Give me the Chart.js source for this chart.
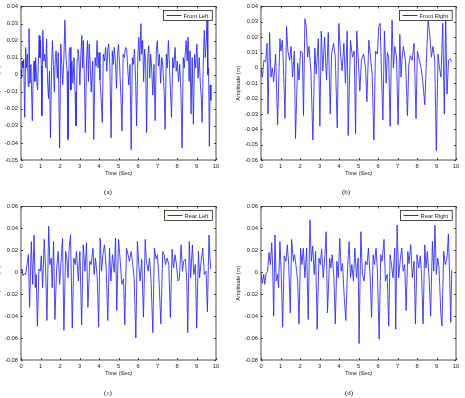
<!DOCTYPE html>
<html lang="en">
<head>
  <meta charset="UTF-8"/>
  <title>Suspension amplitude</title>
  <script src="https://cdn.jsdelivr.net/npm/chart.js"></script>
  <style>
    body { margin: 0; background: #fff; width: 465px; height: 398px; overflow: hidden; position: relative; }
    .panel { position: absolute; }
    .cap { position: absolute; width: 40px; text-align: center; font: 7px "Liberation Serif", serif; color: #111; line-height: 8px; will-change: transform; }
  </style>
</head>
<body>
  <canvas id="fl" class="panel" width="229" height="177" style="left:-5px;top:0px"></canvas>
  <canvas id="fr" class="panel" width="229" height="177" style="left:235px;top:0px"></canvas>
  <canvas id="rl" class="panel" width="229" height="177" style="left:-5px;top:200px"></canvas>
  <canvas id="rr" class="panel" width="229" height="177" style="left:235px;top:200px"></canvas>
  <div class="cap" style="left:88px;top:188px">(a)</div>
  <div class="cap" style="left:326px;top:188px">(b)</div>
  <div class="cap" style="left:88px;top:389px">(c)</div>
  <div class="cap" style="left:329px;top:389px">(d)</div>

  <script>
    // front left wheel
    const timeFL = [0,0.03,0.06,0.10,0.14,0.19,0.24,0.28,0.33,0.37, 0.41,0.46,0.51,0.58,0.63,0.67,0.71,0.75,0.80,0.85,
      0.90,0.93,0.97,1.00,1.04,1.07,1.12,1.17,1.22,1.28, 1.31,1.36,1.41,1.46,1.51,1.57,1.61,1.66,1.71,1.76,
      1.80,1.86,1.91,1.98,2.04,2.09,2.14,2.20,2.25,2.30, 2.36,2.41,2.47,2.52,2.56,2.61,2.66,2.72,2.77,2.82,
      2.88,2.92,2.97,3.02,3.07,3.12,3.16,3.20,3.25,3.30, 3.36,3.41,3.46,3.50,3.55,3.60,3.68,3.73,3.80,3.85,
      3.90,3.95,4.00,4.05,4.10,4.17,4.22,4.28,4.34,4.40, 4.45,4.50,4.56,4.62,4.68,4.73,4.78,4.84,4.90,4.95,
      5.00,5.06,5.12,5.18,5.24,5.30,5.36,5.42,5.48,5.53, 5.59,5.65,5.71,5.76,5.82,5.88,5.93,5.99,6.04,6.09,
      6.15,6.19,6.24,6.29,6.34,6.39,6.44,6.50,6.55,6.60, 6.65,6.70,6.76,6.82,6.88,6.94,6.99,7.05,7.10,7.16,
      7.22,7.28,7.34,7.39,7.45,7.50,7.56,7.61,7.66,7.72, 7.78,7.84,7.90,7.96,8.02,8.08,8.14,8.20,8.26,8.32,
      8.37,8.42,8.47,8.52,8.57,8.62,8.67,8.72,8.78,8.84, 8.90,8.96,9.02,9.08,9.14,9.20,9.24,9.29,9.35,9.40,
      9.45,9.50,9.54,9.58,9.62,9.66,9.70,9.74];
    const ampFL = [0.003,-0.002,0.008,0.004,0.009,-0.025,0.016,0.004,0.012,-0.007, 0.027,-0.005,0.006,-0.027,0.002,0.008,-0.004,0.010,-0.002,-0.009,
      0.012,0.023,0.010,0.020,0.005,-0.024,0.026,0.008,0.012,0.004, 0.021,-0.003,-0.014,0.002,-0.037,0.005,0.020,0.006,-0.010,0.010,
      0.014,-0.002,0.013,-0.043,0.018,0.006,-0.006,0.010,0.032,0.012, 0.002,-0.038,0.013,0.016,-0.009,0.008,-0.005,0.010,-0.010,-0.030,
      0.009,0.015,0.010,-0.006,0.012,0.023,0.004,0.020,-0.002,-0.034, 0.008,0.020,-0.004,0.018,0.006,-0.010,0.008,-0.038,0.010,0.005,
      0.020,0.004,0.013,-0.003,-0.012,-0.028,0.012,0.008,0.016,0.002, 0.015,0.018,0.004,-0.037,0.014,0.006,0.016,0.008,-0.008,0.012,
      0.018,0.005,-0.012,-0.033,0.012,0.010,0.016,0.015,0.002,-0.006, 0.006,-0.044,0.010,0.006,0.015,-0.004,-0.030,0.010,0.022,0.008,
      0.030,0.012,0.020,-0.004,0.015,0.008,-0.034,0.010,0.017,-0.002, 0.012,0.004,-0.012,0.006,-0.027,0.014,0.020,0.005,0.012,-0.005,
      0.010,0.004,-0.010,-0.032,0.012,0.004,0.020,0.006,-0.008,-0.025, 0.010,0.004,0.016,0.002,0.008,-0.004,0.006,-0.010,-0.043,0.010,
      0.004,0.012,0.020,0.008,0.022,-0.004,0.014,-0.023,0.010,-0.029, 0.012,0.004,0.018,-0.002,0.010,-0.006,-0.012,-0.028,0.008,0.026,
      0.010,0.020,0.032,0.000,0.004,-0.042,-0.006,-0.015];

    // front right wheel
    const timeFR = [0,0.07,0.15,0.24,0.31,0.36,0.44,0.51,0.58,0.65, 0.75,0.85,0.97,1.02,1.09,1.14,1.23,1.31,1.38,1.47,
      1.54,1.62,1.71,1.77,1.88,1.95,2.03,2.12,2.18,2.25, 2.32,2.39,2.46,2.56,2.66,2.76,2.83,2.94,3.02,3.09,
      3.17,3.26,3.36,3.45,3.55,3.62,3.72,3.81,3.91,3.99, 4.08,4.16,4.25,4.33,4.42,4.47,4.59,4.69,4.78,4.85,
      4.91,4.98,5.07,5.15,5.26,5.36,5.43,5.53,5.60,5.70, 5.79,5.87,5.97,6.04,6.11,6.18,6.25,6.33,6.42,6.48,
      6.55,6.62,6.72,6.79,6.86,6.95,7.03,7.12,7.18,7.24, 7.30,7.41,7.51,7.58,7.66,7.75,7.85,7.95,8.02,8.12,
      8.21,8.29,8.40,8.50,8.57,8.65,8.74,8.82,8.91,8.99, 9.08,9.15,9.23,9.32,9.40,9.47,9.54,9.62,9.71,9.76];
    const ampFR = [0.000,-0.006,0.005,0.004,0.016,-0.030,0.023,-0.006,0.000,-0.009, 0.009,-0.037,0.019,0.011,0.018,0.005,-0.033,0.027,0.011,0.005,
      0.014,-0.006,0.011,-0.046,0.003,-0.008,0.011,0.010,-0.031,0.032, 0.027,0.007,0.014,-0.002,-0.047,0.013,-0.004,0.019,-0.038,0.024,
      -0.002,0.020,-0.008,0.023,-0.030,0.009,0.016,0.007,-0.039,0.029, 0.009,-0.002,0.016,-0.010,0.024,-0.044,0.018,0.007,0.011,-0.043,
      0.024,0.007,-0.015,0.005,0.009,0.000,-0.022,0.018,0.009,-0.004, -0.047,0.011,0.009,0.027,0.029,-0.004,-0.034,0.024,-0.010,0.010,
      0.007,-0.038,0.031,0.000,0.014,0.007,-0.037,0.022,-0.006,0.007, 0.014,0.005,-0.031,0.002,0.008,0.005,0.016,-0.033,0.011,0.005,
      0.000,-0.008,-0.024,0.011,0.031,0.022,0.007,0.014,0.005,-0.054, 0.009,0.000,-0.006,0.029,-0.030,0.033,-0.017,0.005,0.006,0.004];

    // rear left wheel
    const timeRL = [0,0.05,0.10,0.17,0.24,0.31,0.38,0.44,0.53,0.60, 0.67,0.73,0.78,0.84,0.92,0.99,1.04,1.11,1.19,1.26,
      1.33,1.42,1.48,1.55,1.60,1.67,1.74,1.83,1.91,1.98, 2.05,2.13,2.20,2.29,2.35,2.41,2.47,2.54,2.63,2.71,
      2.78,2.85,2.94,3.02,3.11,3.19,3.28,3.36,3.43,3.53, 3.60,3.69,3.75,3.82,3.91,3.98,4.06,4.13,4.20,4.28,
      4.37,4.45,4.54,4.61,4.69,4.78,4.85,4.91,5.00,5.09, 5.17,5.26,5.32,5.41,5.49,5.56,5.65,5.73,5.80,5.89,
      5.97,6.04,6.11,6.19,6.28,6.37,6.43,6.52,6.59,6.67, 6.76,6.84,6.93,7.00,7.08,7.17,7.27,7.34,7.41,7.49,
      7.58,7.66,7.75,7.82,7.90,7.97,8.05,8.12,8.21,8.28, 8.34,8.43,8.50,8.55,8.63,8.70,8.79,8.86,8.94,9.01,
      9.10,9.16,9.23,9.32,9.40,9.49,9.56,9.64,9.69,9.73];
    const ampRL = [0.001,0.003,-0.003,-0.001,-0.002,0.007,0.016,-0.032,0.028,-0.011, 0.034,-0.014,-0.002,-0.049,0.003,0.001,0.015,-0.014,0.030,0.004,
      -0.044,0.042,0.007,0.013,-0.014,0.028,-0.043,0.004,0.019,-0.011, 0.009,0.031,-0.053,0.019,0.013,-0.005,0.022,0.034,-0.051,0.013,
      0.007,0.019,-0.008,0.019,-0.048,0.025,0.001,0.027,-0.032,0.010, 0.007,0.022,-0.002,0.013,-0.005,-0.050,0.031,0.001,0.016,0.025,
      0.004,-0.044,0.022,-0.008,0.016,0.000,0.031,-0.035,0.030,0.010, -0.011,-0.006,-0.048,0.022,0.016,0.010,0.019,0.007,-0.005,-0.060,
      0.028,0.007,-0.008,0.012,-0.041,0.030,0.010,0.001,0.013,-0.008, -0.055,0.022,0.012,0.016,-0.008,-0.047,0.019,0.016,0.007,0.013,
      0.007,-0.041,0.021,0.004,0.016,0.007,-0.008,-0.006,0.025,0.001, 0.010,0.012,-0.008,-0.055,0.028,-0.005,0.025,-0.002,0.007,-0.051,
      0.019,-0.005,0.009,0.022,-0.002,0.001,-0.036,0.034,0.013,0.003];

    // rear right wheel
    const timeRR = [0,0.07,0.14,0.19,0.26,0.34,0.41,0.48,0.55,0.60, 0.65,0.72,0.78,0.85,0.90,0.97,1.04,1.11,1.19,1.28,
      1.35,1.42,1.50,1.57,1.66,1.72,1.79,1.88,1.95,2.03, 2.10,2.17,2.25,2.34,2.42,2.51,2.58,2.65,2.73,2.80,
      2.88,2.97,3.04,3.11,3.19,3.28,3.34,3.41,3.52,3.58, 3.65,3.74,3.81,3.89,3.96,4.04,4.11,4.18,4.27,4.35,
      4.44,4.52,4.59,4.66,4.74,4.81,4.90,4.98,5.03,5.12, 5.20,5.29,5.36,5.44,5.51,5.60,5.67,5.75,5.82,5.90,
      5.97,6.06,6.14,6.21,6.31,6.38,6.47,6.55,6.62,6.69, 6.77,6.86,6.91,6.98,7.06,7.15,7.22,7.29,7.37,7.44,
      7.53,7.59,7.68,7.76,7.85,7.92,8.00,8.09,8.17,8.24, 8.31,8.40,8.46,8.53,8.62,8.70,8.79,8.86,8.92,8.99,
      9.06,9.13,9.22,9.28,9.37,9.45,9.54,9.61,9.68,9.73, 9.78];
    const ampRR = [-0.001,-0.010,-0.002,-0.011,-0.001,0.001,0.018,0.007,0.027,0.004, -0.040,0.034,-0.008,-0.002,-0.014,0.028,-0.002,-0.050,0.015,0.010,
      0.025,0.007,-0.037,0.030,0.010,0.016,0.007,-0.008,-0.047,0.022, 0.007,0.022,-0.005,0.022,-0.043,0.048,0.010,0.024,-0.002,0.019,
      -0.052,0.013,0.007,0.021,-0.005,0.016,0.037,-0.037,0.013,0.004, 0.016,-0.005,-0.047,0.010,-0.005,0.031,0.001,0.008,-0.023,-0.044,
      0.004,0.028,-0.005,0.007,-0.008,0.022,-0.005,0.013,-0.065,0.037, -0.002,-0.008,0.010,0.007,0.022,-0.005,-0.041,0.016,0.007,0.022,
      0.001,-0.061,0.016,0.010,0.030,-0.008,-0.002,-0.049,0.016,0.007, -0.005,0.022,-0.052,0.043,-0.005,0.013,0.022,0.001,0.007,-0.035,
      0.019,0.008,0.025,-0.005,0.010,-0.047,0.016,0.004,0.015,-0.005, -0.047,0.025,0.004,0.019,-0.005,-0.040,0.028,0.001,0.043,-0.002,
      0.013,0.004,-0.037,-0.049,0.019,0.007,0.013,0.035,-0.008,-0.046, 0.002];

    const legendNames = ['Front Left', 'Front Right', 'Rear Left', 'Rear Right'];
    const yMins  = [-0.05, -0.06, -0.08, -0.08];
    const yMaxs  = [0.04, 0.04, 0.06, 0.06];
    const ySteps = [0.01, 0.01, 0.02, 0.02];
    const xTitle = 'Time (Sec)';
    const yTitle = 'Amplitude (m)';

    const lineColor = 'rgb(40,40,235)';
    const inkColor = '#222';
    const tickFont = { family: '"Liberation Sans", Arial, sans-serif', size: 5.8 };

    // matlab style axes: closed box, inward ticks, legend in the top right corner
    const boxPlugin = {
      id: 'boxPlugin',
      afterDraw(chart) {
        const ctx = chart.ctx, a = chart.chartArea;
        const xs = chart.scales.x, ys = chart.scales.y;
        ctx.save();
        ctx.strokeStyle = inkColor;
        ctx.lineWidth = 0.8;
        ctx.strokeRect(a.left, a.top, a.right - a.left, a.bottom - a.top);
        ctx.beginPath();
        xs.ticks.forEach(t => {
          const px = Math.round(xs.getPixelForValue(t.value)) + 0.5;
          ctx.moveTo(px, a.bottom); ctx.lineTo(px, a.bottom - 2);
          ctx.moveTo(px, a.top); ctx.lineTo(px, a.top + 2);
        });
        ys.ticks.forEach(t => {
          const py = Math.round(ys.getPixelForValue(t.value)) + 0.5;
          ctx.moveTo(a.left, py); ctx.lineTo(a.left + 2, py);
          ctx.moveTo(a.right, py); ctx.lineTo(a.right - 2, py);
        });
        ctx.stroke();

        // legend box
        const ds = chart.data.datasets[0];
        ctx.font = '5.8px "Liberation Sans", Arial, sans-serif';
        const tw = ctx.measureText(ds.label).width;
        const w = tw + 24, h = 10;
        const x1 = Math.round(a.right - 4 - w) + 0.5, y1 = Math.round(a.top + 4) + 0.5;
        ctx.fillStyle = '#fff';
        ctx.fillRect(x1, y1, w, h);
        ctx.strokeRect(x1, y1, w, h);
        ctx.beginPath();
        ctx.strokeStyle = ds.borderColor;
        ctx.lineWidth = 1;
        ctx.moveTo(x1 + 3, y1 + h / 2);
        ctx.lineTo(x1 + 18, y1 + h / 2);
        ctx.stroke();
        ctx.fillStyle = inkColor;
        ctx.textBaseline = 'middle';
        ctx.fillText(ds.label, x1 + 20, y1 + h / 2 + 0.5);
        ctx.restore();
      }
    };

    function makePanel(id, idx, times, amps) {
      const pts = times.map((t, i) => ({ x: t, y: amps[i] }));
      return new Chart(document.getElementById(id), {
        type: 'line',
        data: {
          datasets: [{
            label: legendNames[idx],
            data: pts,
            borderColor: lineColor,
            borderWidth: 0.85,
            pointRadius: 0,
            tension: 0,
            fill: false
          }]
        },
        options: {
          responsive: false,
          animation: false,
          devicePixelRatio: 1,
          layout: { padding: { top: 6, right: 8, left: 0, bottom: 0 } },
          plugins: { legend: { display: false }, tooltip: { enabled: false } },
          scales: {
            x: {
              type: 'linear', min: 0, max: 10,
              ticks: { stepSize: 1, font: tickFont, color: inkColor, padding: 3, maxRotation: 0, autoSkip: false },
              grid: { display: false, drawTicks: false },
              border: { display: false },
              title: { display: true, text: xTitle, font: { family: tickFont.family, size: 5.6 }, color: inkColor, padding: 0 },
              afterFit: s => { s.height = 17; }
            },
            y: {
              min: yMins[idx], max: yMaxs[idx],
              ticks: {
                stepSize: ySteps[idx], font: tickFont, color: inkColor, padding: 3,
                callback: v => Math.abs(v) < 1e-9 ? '0' : v.toFixed(2)
              },
              grid: { display: false, drawTicks: false },
              border: { display: false },
              title: { display: true, text: yTitle, font: { family: tickFont.family, size: 5.6 }, color: inkColor, padding: 0 },
              afterFit: s => { s.width = 26; }
            }
          }
        },
        plugins: [boxPlugin]
      });
    }

    makePanel('fl', 0, timeFL, ampFL);
    makePanel('fr', 1, timeFR, ampFR);
    makePanel('rl', 2, timeRL, ampRL);
    makePanel('rr', 3, timeRR, ampRR);
  </script>
</body>
</html>
